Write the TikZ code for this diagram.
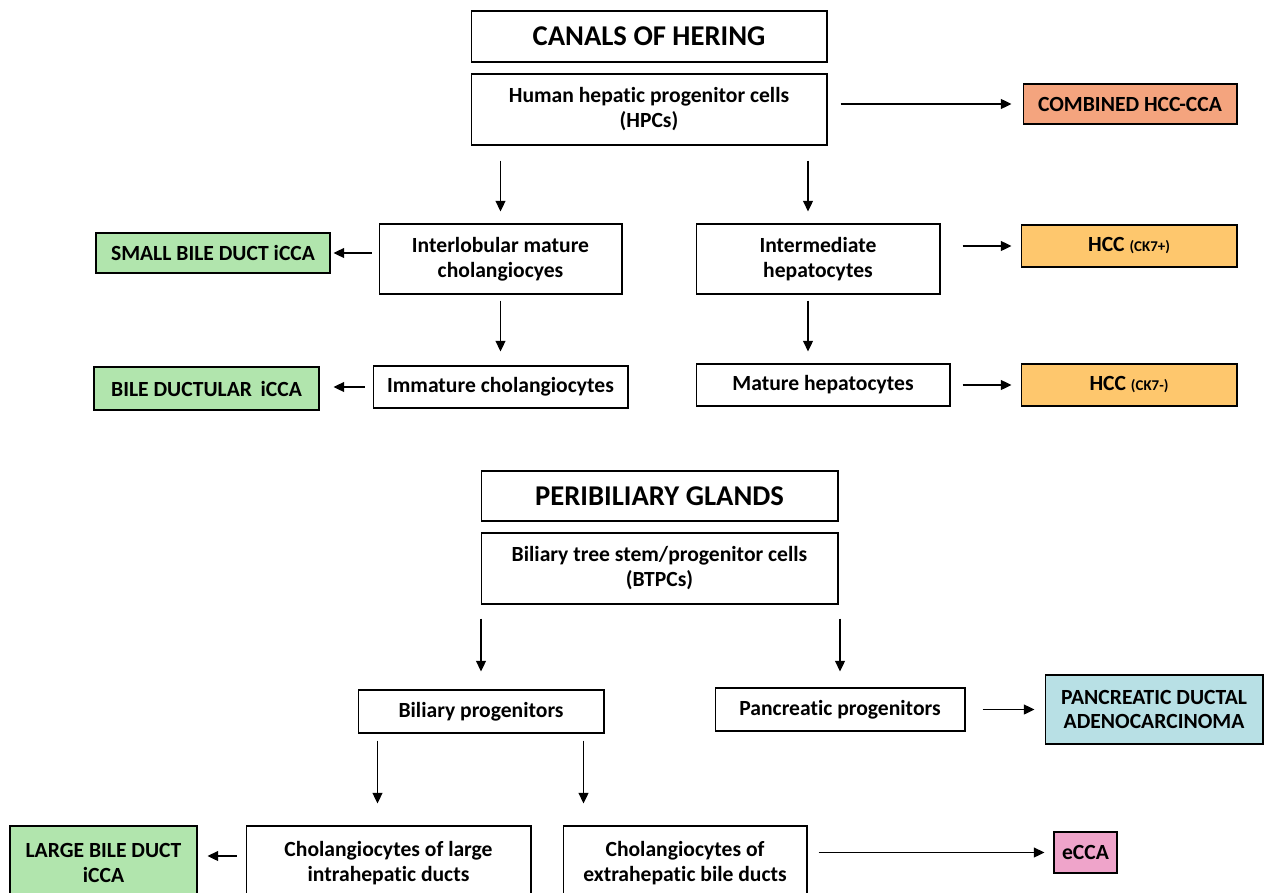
\documentclass[tikz,border=0pt]{standalone}
\usepackage{fontspec}
\setmainfont{Carlito}[Ligatures=NoCommon]
\usepackage{tikz}
\usepackage{xcolor}
\usetikzlibrary{arrows.meta}

\definecolor{tumgreen}{HTML}{B1E5AD}
\definecolor{tumsalmon}{HTML}{F4A47E}
\definecolor{tumorange}{HTML}{FEC76D}
\definecolor{tumblue}{HTML}{B8E0E5}
\definecolor{tumpink}{HTML}{EFA4CA}

\begin{document}
\begin{tikzpicture}[x=0.02cm, y=-0.02cm,
    cell/.style = {draw, line width=0.6pt, fill=white, align=center,
        font=\fontsize{12.3}{14.2}\selectfont\bfseries, inner sep=2pt},
    title/.style = {cell, font=\fontsize{16.3}{19}\selectfont\bfseries},
    tumour/.style = {cell, fill=#1},
    arr/.style = {-{Triangle[length=6pt,width=5.5pt]}, line width=1.1pt}]

\useasboundingbox (0,0) rectangle (1267,892);

% Canals of Hering
\node[title, minimum width=7.12cm, minimum height=1.02cm] (coh) at (649,36.5) {CANALS OF HERING};
\node[cell, minimum width=7.12cm, minimum height=1.42cm] (hpc) at (649,109.5) {Human hepatic progenitor cells\\(HPCs)};
\node[tumour=tumsalmon, minimum width=4.28cm, minimum height=0.8cm] (comb) at (1130,104) {COMBINED HCC-CCA};

% Cholangiocyte branch
\node[cell, minimum width=4.86cm, minimum height=1.4cm] (inter) at (500.5,259) {Interlobular mature\\cholangiocyes};
\node[cell, minimum width=5.1cm, minimum height=0.84cm] (immat) at (500.5,387) {Immature cholangiocytes};
\node[tumour=tumgreen, minimum width=4.68cm, minimum height=0.8cm] (small) at (213,253) {SMALL BILE DUCT iCCA};
\node[tumour=tumgreen, minimum width=4.5cm, minimum height=0.86cm] (ductular) at (206.5,388.5) {BILE DUCTULAR\, iCCA};

% Hepatocyte branch
\node[cell, minimum width=4.88cm, minimum height=1.4cm] (interm) at (818,259) {Intermediate\\hepatocytes};
\node[cell, minimum width=5.08cm, minimum height=0.84cm] (mathep) at (823,385) {Mature hepatocytes};
\node[tumour=tumorange, minimum width=4.32cm, minimum height=0.84cm] (ckpos) at (1129,246) {HCC {\fontsize{8.5}{10}\selectfont (CK7+)}};
\node[tumour=tumorange, minimum width=4.32cm, minimum height=0.84cm] (ckneg) at (1129,385) {HCC {\fontsize{8.5}{10}\selectfont (CK7-)}};

% Peribiliary glands
\node[title, minimum width=7.14cm, minimum height=1.0cm] (pbg) at (659.5,496) {PERIBILIARY GLANDS};
\node[cell, minimum width=7.14cm, minimum height=1.42cm] (btpc) at (659.5,568.5) {Biliary tree stem/progenitor cells\\(BTPCs)};
\node[cell, minimum width=4.92cm, minimum height=0.86cm] (bprog) at (481,711.5) {Biliary progenitors};
\node[cell, minimum width=5.0cm, minimum height=0.86cm] (pprog) at (840,709.5) {Pancreatic progenitors};
\node[tumour=tumblue, minimum width=4.36cm, minimum height=1.38cm] (pdac) at (1154,709.5) {PANCREATIC DUCTAL\\ADENOCARCINOMA};

% Bottom row
\node[cell, minimum width=5.7cm, minimum height=1.48cm] (large) at (388.5,863) {Cholangiocytes of large\\intrahepatic ducts};
\node[cell, minimum width=4.88cm, minimum height=1.48cm] (extra) at (685,863) {Cholangiocytes of\\extrahepatic bile ducts};
\node[tumour=tumgreen, minimum width=3.74cm, minimum height=1.48cm] (lbd) at (103.5,863) {LARGE BILE DUCT\\iCCA};
\node[tumour=tumpink, minimum width=1.26cm, minimum height=0.82cm] (ecca) at (1085.5,852.5) {eCCA};

% Arrows, upper part
\draw[arr, shorten <=0.26cm, shorten >=0.22cm] (hpc.east |- comb) -- (comb.west);
\draw[arr, shorten <=0.3cm, shorten >=0.24cm] (inter.north |- hpc.south) -- (inter.north);
\draw[arr, shorten <=0.3cm, shorten >=0.24cm] ([xshift=-0.2cm]interm.north |- hpc.south) -- ([xshift=-0.2cm]interm.north);
\draw[arr, shorten <=0.14cm, shorten >=0.06cm] (small.east -| inter.west) -- (small.east);
\draw[arr, shorten <=0.44cm, shorten >=0.18cm] (interm.east |- ckpos) -- (ckpos.west);
\draw[arr, shorten <=0.12cm, shorten >=0.28cm] (inter.south) -- (inter.south |- immat.north);
\draw[arr, shorten <=0.12cm, shorten >=0.24cm] ([xshift=-0.2cm]interm.south) -- ([xshift=-0.2cm]interm.south |- mathep.north);
\draw[arr, shorten <=0.16cm, shorten >=0.28cm] (immat.west) -- (immat.west -| ductular.east);
\draw[arr, shorten <=0.24cm, shorten >=0.18cm] (mathep.east) -- (mathep.east -| ckneg.west);

% Arrows, lower part
\draw[arr, shorten <=0.28cm, shorten >=0.36cm] (bprog.north |- btpc.south) -- (bprog.north);
\draw[arr, shorten <=0.28cm, shorten >=0.32cm] (pprog.north |- btpc.south) -- (pprog.north);
\draw[arr, shorten <=0.34cm, shorten >=0.2cm] (pprog.east) -- (pprog.east -| pdac.west);
\draw[arr, shorten <=0.14cm, shorten >=0.44cm] ([xshift=0.4cm]bprog.south west) -- ([xshift=0.4cm]bprog.south west |- large.north);
\draw[arr, shorten <=0.14cm, shorten >=0.44cm] ([xshift=-0.42cm]bprog.south east) -- ([xshift=-0.42cm]bprog.south east |- extra.north);
\draw[arr, shorten <=0.18cm, shorten >=0.2cm] ([yshift=0.14cm]large.west) -- ([yshift=0.14cm]large.west -| lbd.east);
\draw[arr, shorten <=0.22cm, shorten >=0.18cm] (extra.east |- ecca) -- (ecca.west);
\end{tikzpicture}
\end{document}
